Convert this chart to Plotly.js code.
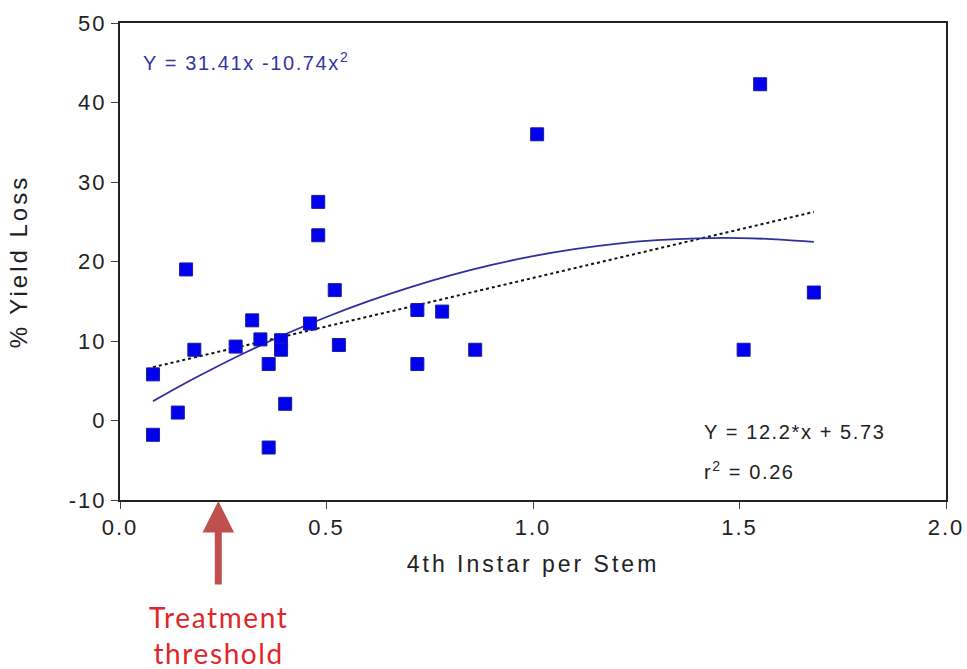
<!DOCTYPE html>
<html>
<head>
<meta charset="utf-8">
<script src="https://cdn.plot.ly/plotly-3.0.1.min.js"></script>
<style>
html, body { margin: 0; padding: 0; background: #fff; }
#chart { width: 967px; height: 669px; }
.main-svg .xtick text, .main-svg .ytick text { letter-spacing: 2px; }
.main-svg text.xtitle, .main-svg text.ytitle { letter-spacing: 3px; }
text.annotation-text { letter-spacing: 1.6px; }
</style>
</head>
<body>
<div id="chart"></div>
<script>
// Observed data: 4th instar larvae per stem vs % yield loss
const instarPerStem = [0.08, 0.08, 0.14, 0.16, 0.18, 0.28, 0.32, 0.34, 0.36, 0.36, 0.39, 0.39, 0.40, 0.46, 0.48, 0.48, 0.52, 0.53, 0.72, 0.72, 0.78, 0.86, 1.01, 1.51, 1.55, 1.68];
const yieldLoss     = [5.8, -1.8, 1.0, 19.0, 8.9, 9.3, 12.6, 10.2, 7.1, -3.4, 10.1, 8.9, 2.1, 12.2, 27.5, 23.3, 16.4, 9.5, 13.9, 7.1, 13.7, 8.9, 36.0, 8.9, 42.3, 16.1];

// Quadratic fit curve
const quadX = [0.08, 0.15, 0.2, 0.3, 0.4, 0.5, 0.6, 0.7, 0.8, 0.9, 1.0, 1.1, 1.2, 1.3, 1.4, 1.5, 1.6, 1.68];
const quadY = [2.44, 4.47, 5.85, 8.46, 10.85, 13.02, 14.98, 16.72, 18.25, 19.57, 20.67, 21.56, 22.23, 22.68, 22.92, 22.95, 22.76, 22.46];

// Linear fit (dotted) end points
const linX = [0.08, 1.68];
const linY = [6.71, 26.23];

const xTickVals = [0, 0.5, 1.0, 1.5, 2.0];
const xTickText = ['0.0', '0.5', '1.0', '1.5', '2.0'];
const yTickVals = [-10, 0, 10, 20, 30, 40, 50];
const yTickText = ['-10', '0', '10', '20', '30', '40', '50'];

const quadLabel = 'Y = 31.41x -10.74x<sup>2</sup>';
const linLabel = 'Y = 12.2*x + 5.73';
const r2Label = 'r<sup>2</sup> = 0.26';
const thresholdLabel = 'Treatment<br>threshold';
const thresholdX = 0.238;

const FONT = 'Liberation Sans, Arial, Helvetica, sans-serif';

const traces = [
  {
    x: linX, y: linY, type: 'scatter', mode: 'lines',
    line: { color: '#111111', width: 2, dash: 'dot' },
    hoverinfo: 'skip', showlegend: false
  },
  {
    x: quadX, y: quadY, type: 'scatter', mode: 'lines',
    line: { color: '#2f2f9c', width: 1.8, shape: 'spline' },
    hoverinfo: 'skip', showlegend: false
  },
  {
    x: instarPerStem, y: yieldLoss, type: 'scatter', mode: 'markers',
    marker: { symbol: 'square', size: 13, color: '#0000ee', line: { color: '#1c1ca0', width: 1 } },
    showlegend: false
  }
];

const layout = {
  width: 967, height: 669,
  margin: { l: 120, r: 21, t: 23, b: 169 },
  paper_bgcolor: '#ffffff', plot_bgcolor: '#ffffff',
  font: { family: FONT, size: 22, color: '#222222' },
  showlegend: false,
  xaxis: {
    range: [0, 2], tickvals: xTickVals, ticktext: xTickText,
    showgrid: false, zeroline: false,
    showline: true, linecolor: '#222222', linewidth: 2, mirror: true,
    ticks: 'outside', ticklen: 7, tickwidth: 1, tickcolor: '#444444',
    tickfont: { family: FONT, size: 22, color: '#222222' },
    title: { text: '4th Instar per Stem', font: { family: FONT, size: 23, color: '#222222' }, standoff: 16 }
  },
  yaxis: {
    range: [-10, 50], tickvals: yTickVals, ticktext: yTickText,
    showgrid: false, zeroline: false,
    showline: true, linecolor: '#222222', linewidth: 2, mirror: true,
    ticks: 'outside', ticklen: 7, tickwidth: 1, tickcolor: '#444444',
    tickfont: { family: FONT, size: 22, color: '#222222' },
    title: { text: '% Yield Loss', font: { family: FONT, size: 24, color: '#222222' }, standoff: 40 }
  },
  annotations: [
    {
      x: 0.052, y: 45.1, xref: 'x', yref: 'y', xanchor: 'left', yanchor: 'middle',
      text: quadLabel, showarrow: false,
      font: { family: FONT, size: 20, color: '#3434a4' }
    },
    {
      x: 1.41, y: -1.5, xref: 'x', yref: 'y', xanchor: 'left', yanchor: 'middle',
      text: linLabel, showarrow: false,
      font: { family: FONT, size: 20, color: '#222222' }
    },
    {
      x: 1.41, y: -6.3, xref: 'x', yref: 'y', xanchor: 'left', yanchor: 'middle',
      text: r2Label, showarrow: false,
      font: { family: FONT, size: 20, color: '#222222' }
    },
    {
      x: thresholdX, y: -10, xref: 'x', yref: 'y',
      text: '', showarrow: true, arrowhead: 2, arrowsize: 0.9, arrowwidth: 7,
      arrowcolor: '#c0504d', ax: 0, ay: 86, standoff: 1
    },
    {
      x: thresholdX, y: -0.205, xref: 'x', yref: 'paper', xanchor: 'center', yanchor: 'top',
      text: thresholdLabel, showarrow: false,
      font: { family: 'Lato, Open Sans, sans-serif', size: 28, color: '#e0262b' }
    }
  ]
};

Plotly.newPlot('chart', traces, layout, { displayModeBar: false, responsive: false });
</script>
</body>
</html>
